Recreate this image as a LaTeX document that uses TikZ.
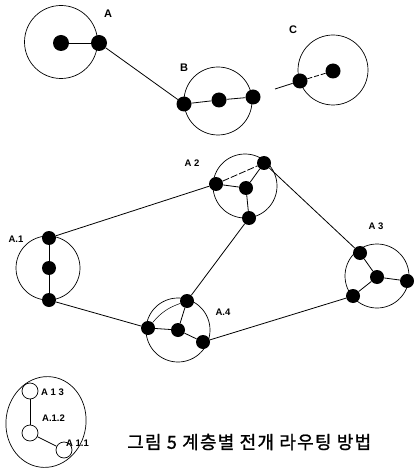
\documentclass[tikz,border=0pt]{standalone}
\usetikzlibrary{shapes.geometric}
\usepackage{fontspec}
\setmainfont{Liberation Sans}
\newfontfamily\kr[FakeBold=1.2,LetterSpace=7]{Noto Sans CJK KR}
\begin{document}
\begin{tikzpicture}[x=1pt,y=-1pt,
  dot/.style={circle,fill=black,inner sep=0pt,minimum size=14pt},
  cluster/.style={circle,draw,line width=0.7pt,inner sep=0pt},
  sub/.style={circle,draw,line width=0.7pt,inner sep=0pt,minimum size=16pt},
  link/.style={line width=0.8pt},
  lbl/.style={font=\bfseries\fontsize{9.5}{9.5}\selectfont,inner sep=0pt},
  biglbl/.style={font=\bfseries\fontsize{11}{11}\selectfont,inner sep=0pt}]
\useasboundingbox (0,0) rectangle (413,470);
% ---------- top group ----------
\node[cluster,minimum size=73pt] (cA) at (61,42) {};
\node[cluster,minimum size=68pt] (cB) at (218,101) {};
\node[cluster,minimum size=70pt] (cC) at (333,70) {};
\node[dot,minimum size=16pt] (a1) at (61,43) {};
\node[dot,minimum size=16pt] (a2) at (99,43) {};
\node[dot,minimum size=15pt] (b1) at (184,104) {};
\node[dot,minimum size=15pt] (b2) at (219,100) {};
\node[dot,minimum size=15pt] (b3) at (253,97) {};
\node[dot,minimum size=15pt] (c1) at (300,81) {};
\node[dot,minimum size=15pt] (c2) at (333,71) {};
\coordinate (cs) at (275,89);
\node[biglbl] (lA) at (108,14) {A};
\node[biglbl] (lB) at (184,68) {B};
\node[biglbl] (lC) at (293,30) {C};
\draw[link] (a1) -- (a2);
\draw[link] (a2) -- (b1);
\draw[link] (b1) -- (b2) -- (b3);
\draw[link] (cs) -- (c1);
\draw[link,dash pattern=on 5pt off 2pt] (c1) -- (c2);
% ---------- middle group ----------
\node[cluster,minimum size=64pt] (cA1) at (48,268) {};
\node[cluster,minimum size=64pt] (cA2) at (245,186) {};
\node[cluster,minimum size=64pt] (cA3) at (377,276) {};
\node[cluster,minimum size=64pt] (cA4) at (178,330) {};
% A.1
\node[dot] (p1) at (49,238) {};
\node[dot] (p2) at (49,268) {};
\node[dot] (p3) at (49,300) {};
% A 2
\node[dot] (q1) at (216,184) {};
\node[dot] (q2) at (264,163) {};
\node[dot] (q3) at (246,188) {};
\node[dot] (q4) at (249,218) {};
% A 3
\node[dot] (r1) at (360,253) {};
\node[dot] (r2) at (377,277) {};
\node[dot] (r3) at (407,281) {};
\node[dot] (r4) at (353,296) {};
% A.4
\node[dot] (s1) at (187,301) {};
\node[dot] (s2) at (148,328) {};
\node[dot] (s3) at (178,330) {};
\node[dot] (s4) at (203,342) {};
\node[lbl] (l1) at (16,239) {A.1};
\node[lbl] (l2) at (192,163) {A 2};
\node[lbl] (l3) at (376,226) {A 3};
\node[lbl] (l4) at (223,312) {A.4};
% internal links
\draw[link] (p1) -- (p2) -- (p3);
\draw[link,dash pattern=on 7pt off 2pt] (q1) -- (q2);
\draw[link] (q1) -- (q3) -- (q2);
\draw[link] (q3) -- (q4);
\draw[link] (r1) -- (r2) -- (r3);
\draw[link] (r2) -- (r4);
\draw[link] (s2) -- (s3) -- (s4);
\draw[link] (s3) -- (s1);
\draw[link,line width=0.5pt] (s2) to[bend left=15] (s1);
% cluster links
\draw[link] (p1) -- (q1);
\draw[link] (q2) -- (r1);
\draw[link] (q4) -- (s1);
\draw[link] (p3) -- (s2);
\draw[link] (s4) -- (r4);
% ---------- bottom-left hierarchy ----------
\node[ellipse,draw,line width=0.7pt,minimum width=80pt,minimum height=91pt,inner sep=0pt,rotate=-8] (E) at (46,422) {};
\node[sub] (t3) at (30,391) {};
\node[sub] (t2) at (30,433) {};
\node[sub] (t1) at (64,450) {};
\draw[link] (t3) -- (t2);
\draw[link] (t2) -- (t1);
\node[lbl,anchor=west] (m3) at (41,392) {A 1 3};
\node[lbl,anchor=west] (m2) at (42,418) {A.1.2};
\node[lbl,anchor=west] (m1) at (66,443) {A 1.1};
% caption
\node[font=\kr\fontsize{18}{18}\selectfont,anchor=west,inner sep=0pt] (cap) at (127,442) {그림 5 계층별 전개 라우팅 방법};
\end{tikzpicture}
\end{document}
